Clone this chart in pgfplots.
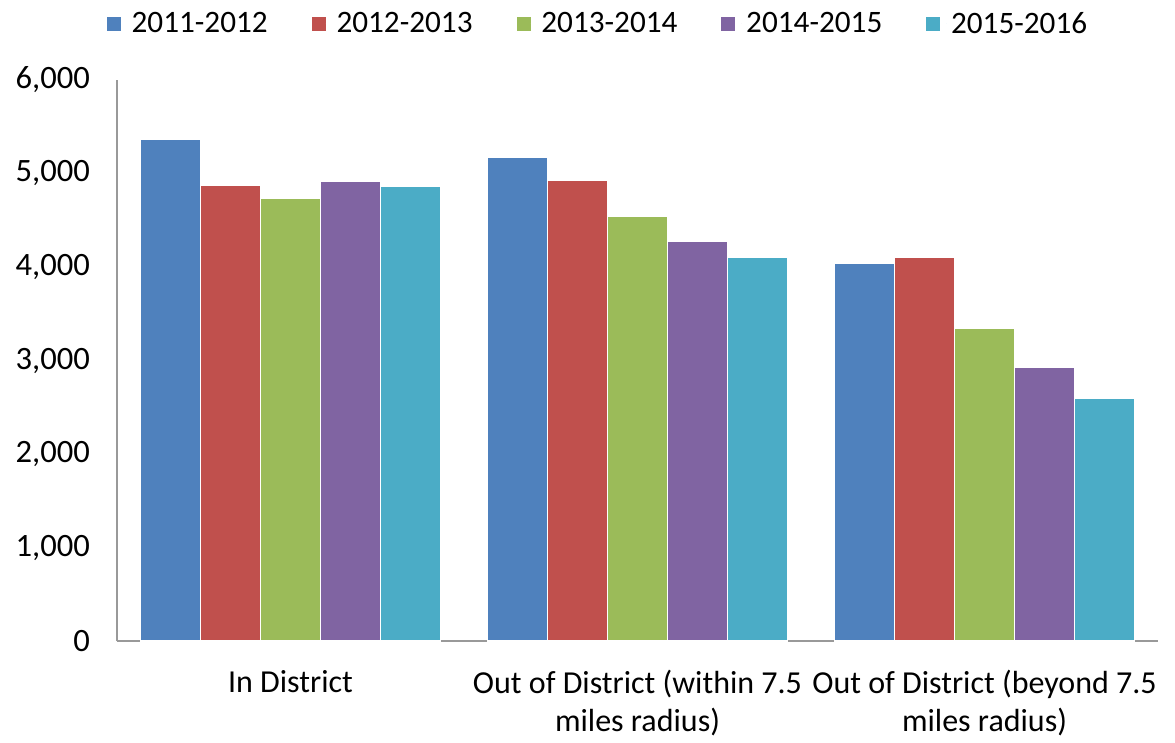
\documentclass[border=0pt]{standalone}
\usepackage{pgfplots}
\pgfplotsset{compat=1.18}
\usepackage{fontspec}
\setmainfont{Carlito}
\definecolor{c1}{HTML}{4F81BD}
\definecolor{c2}{HTML}{C0504D}
\definecolor{c3}{HTML}{9BBB59}
\definecolor{c4}{HTML}{8064A2}
\definecolor{c5}{HTML}{4BACC6}
\begin{document}
\begin{tikzpicture}
\begin{axis}[
  scale only axis,
  width=520.5pt, height=280.5pt,
  clip=false,
  ybar=0pt, bar width=30pt,
  xmin=-0.5, xmax=2.5, ymin=0, ymax=6000,
  xtick={0,1,2},
  xticklabels={In District,{Out of District (within 7.5\\miles radius)},{Out of District (beyond 7.5\\miles radius)}},
  xticklabel style={align=center, font=\fontsize{16pt}{19pt}\selectfont, yshift=-11pt},
  ytick={0,1000,...,6000},
  yticklabel style={font=\fontsize{16.3pt}{19pt}\selectfont, xshift=-10pt},
  /pgf/number format/.cd, 1000 sep={,}, assume math mode=true, /pgfplots/.cd,
  axis x line*=bottom, axis y line*=left,
  axis line style={draw=gray!80, line width=0.8pt},
  major tick length=0pt,
  every axis plot/.append style={draw=white, line width=0.8pt},
  legend style={at={(0.463,1.0)}, anchor=center, yshift=28pt, draw=none, legend columns=5, fill=none,
    font=\fontsize{15.6pt}{19pt}\selectfont, /tikz/every even column/.append style={column sep=20pt}},
  legend image code/.code={\fill[#1, draw=none] (-4.5pt,-3.5pt) rectangle (2.5pt,3.5pt);
    \path (2.5pt,0pt) -- (5.5pt,0pt);},
]
\addplot[fill=c1] coordinates {(0,5365) (1,5170) (2,4045)};
\addplot[fill=c2] coordinates {(0,4880) (1,4925) (2,4100)};
\addplot[fill=c3] coordinates {(0,4740) (1,4540) (2,3350)};
\addplot[fill=c4] coordinates {(0,4915) (1,4280) (2,2925)};
\addplot[fill=c5] coordinates {(0,4860) (1,4100) (2,2600)};
\legend{2011-2012,2012-2013,2013-2014,2014-2015,2015-2016}
\path (axis description cs:-0.1124,-0.1729) rectangle (axis description cs:1.0163,1.1426);
\end{axis}
\end{tikzpicture}
\end{document}
